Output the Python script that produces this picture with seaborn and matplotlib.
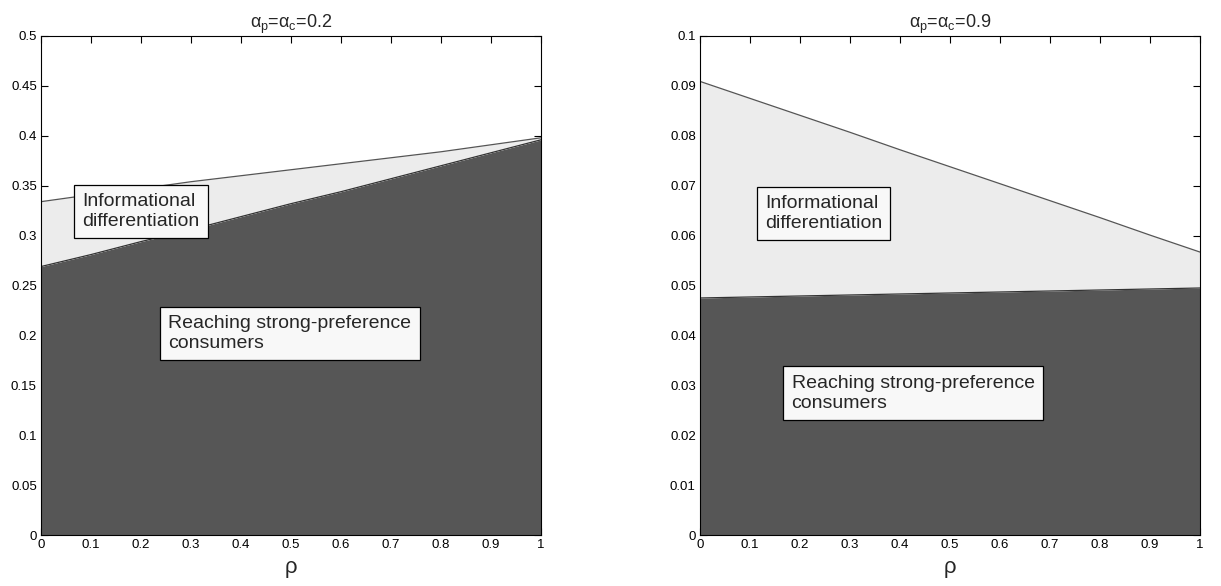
import numpy as np
import pandas as pd
import matplotlib
matplotlib.use("Agg")
import matplotlib.pyplot as plt
import seaborn as sns

# ------------------------------------------
# Data
# ------------------------------------------

rho = [0.0, 0.1, 0.2, 0.3, 0.4, 0.5, 0.6, 0.7, 0.8, 0.9, 1.0]

# alpha_p = alpha_c = 0.2
upper_02 = [0.334, 0.341, 0.347, 0.354, 0.360, 0.366, 0.372, 0.378, 0.384, 0.391, 0.398]
lower_02 = [0.269, 0.281, 0.294, 0.306, 0.319, 0.332, 0.344, 0.357, 0.370, 0.383, 0.396]

# alpha_p = alpha_c = 0.9
upper_09 = [0.0909, 0.0875, 0.0841, 0.0807, 0.0772, 0.0738, 0.0704, 0.0670, 0.0636, 0.0601, 0.0567]
lower_09 = [0.0475, 0.0477, 0.0479, 0.0481, 0.0483, 0.0485, 0.0487, 0.0489, 0.0491, 0.0493, 0.0495]

titles = [r"$\alpha_p$=$\alpha_c$=0.2", r"$\alpha_p$=$\alpha_c$=0.9"]
label_info = "Informational\ndifferentiation"
label_reach = "Reaching strong-preference\nconsumers"

# ------------------------------------------
# Style
# ------------------------------------------

sns.set_style("ticks")
plt.rcParams["font.family"] = ["Liberation Sans", "DejaVu Sans"]
plt.rcParams["mathtext.fontset"] = "custom"
plt.rcParams["mathtext.rm"] = "Liberation Sans"
plt.rcParams["mathtext.it"] = "Liberation Sans"

dark = "#565656"
light = "#ececec"

fig = plt.figure(figsize=(12.21, 5.86), dpi=100)

panels = [
    dict(upper=upper_02, lower=lower_02, ymax=0.5, ystep=0.05,
         info_xy=(0.20, 0.324), reach_xy=(0.498, 0.202)),
    dict(upper=upper_09, lower=lower_09, ymax=0.1, ystep=0.01,
         info_xy=(0.247, 0.0644), reach_xy=(0.426, 0.0284)),
]

lefts = [41 / 1221, 700 / 1221]

for i, p in enumerate(panels):

    ax = fig.add_axes([lefts[i], 51 / 586, 500 / 1221, 499 / 586])

    df = pd.DataFrame({"rho": rho, "upper": p["upper"], "lower": p["lower"]})

    ax.fill_between(df["rho"], 0, df["lower"], color=dark, lw=0, zorder=1)
    ax.fill_between(df["rho"], df["lower"], df["upper"], color=light, lw=0, zorder=1)

    sns.lineplot(data=df, x="rho", y="upper", ax=ax, color="#555555", lw=0.9, zorder=2)
    sns.lineplot(data=df, x="rho", y="lower", ax=ax, color="#333333", lw=0.9, zorder=2)

    ax.set_xlim(0, 1)
    ax.set_ylim(0, p["ymax"])
    ax.set_xticks(np.round(np.arange(0, 1.01, 0.1), 1))
    ax.set_xticklabels(["0", "0.1", "0.2", "0.3", "0.4", "0.5", "0.6", "0.7", "0.8", "0.9", "1"])
    yt = np.round(np.arange(0, p["ymax"] + 1e-9, p["ystep"]), 3)
    ax.set_yticks(yt)
    ax.set_yticklabels([("%g" % v) for v in yt])

    ax.tick_params(direction="in", length=5, width=0.8, top=True, right=True,
                   labelsize=9.5, colors="black", pad=3)
    for s in ax.spines.values():
        s.set_visible(True)
        s.set_linewidth(0.8)
        s.set_color("black")

    ax.set_xlabel(r"$\rho$", fontsize=16, labelpad=6)
    ax.set_ylabel("")
    ax.set_title(titles[i], fontsize=13, pad=6)

    box = dict(boxstyle="square,pad=0.42", facecolor="#f8f8f8", edgecolor="black", lw=0.9)
    ax.text(*p["info_xy"], label_info, ha="center", va="center", multialignment="left",
            fontsize=14, bbox=box, zorder=5, linespacing=1.25)
    ax.text(*p["reach_xy"], label_reach, ha="center", va="center", multialignment="left",
            fontsize=14, bbox=box, zorder=5, linespacing=1.25)

fig.savefig("out.png", dpi=100)
